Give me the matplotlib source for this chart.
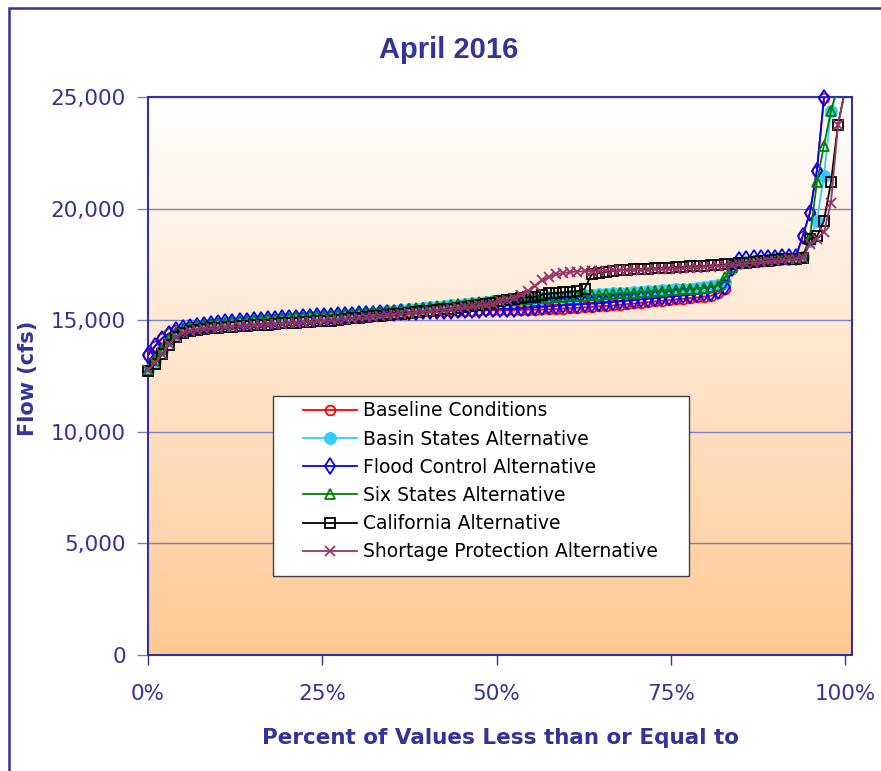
import numpy as np
import matplotlib
matplotlib.use('Agg')
import matplotlib.pyplot as plt
from matplotlib.colors import LinearSegmentedColormap
from matplotlib.lines import Line2D
from matplotlib.patches import Rectangle
from matplotlib.ticker import FuncFormatter

# sorted April 2016 flows (cfs), one value per trace, lowest to highest
baseline = [
    13450, 13850, 14200, 14420, 14560, 14650, 14710, 14760, 14800, 14840,
    14870, 14900, 14930, 14950, 14980, 15000, 15020, 15040, 15060, 15080,
    15100, 15120, 15140, 15160, 15180, 15200, 15210, 15230, 15240, 15260,
    15270, 15290, 15300, 15320, 15330, 15350, 15360, 15370, 15380, 15390,
    15400, 15410, 15410, 15420, 15420, 15430, 15430, 15440, 15440, 15450,
    15450, 15450, 15460, 15460, 15470, 15470, 15480, 15490, 15500, 15520,
    15540, 15560, 15580, 15600, 15620, 15640, 15660, 15690, 15720, 15750,
    15780, 15810, 15840, 15870, 15900, 15930, 15960, 15990, 16020, 16060,
    16100, 16200, 16420, 17300, 17550, 17620, 17660, 17690, 17720, 17740,
    17760, 17780, 17800, 18780, 19800, 21700, 24950, 26500, 28000, 30000]
basin_states = [
    12750, 13150, 13650, 14100, 14400, 14570, 14660, 14720, 14770, 14810,
    14840, 14870, 14900, 14930, 14950, 14980, 15000, 15020, 15050, 15070,
    15090, 15110, 15130, 15150, 15170, 15190, 15210, 15230, 15250, 15270,
    15290, 15310, 15340, 15370, 15400, 15430, 15460, 15490, 15520, 15550,
    15580, 15610, 15640, 15670, 15700, 15730, 15760, 15790, 15820, 15850,
    15880, 15900, 15920, 15940, 15960, 15980, 16000, 16020, 16040, 16060,
    16080, 16100, 16120, 16140, 16160, 16180, 16200, 16220, 16240, 16260,
    16280, 16300, 16320, 16340, 16360, 16380, 16400, 16420, 16450, 16480,
    16520, 16580, 16700, 17350, 17550, 17600, 17640, 17670, 17700, 17720,
    17740, 17760, 17780, 17850, 18560, 19460, 21470, 24390, 25300, 27000]
flood_control = [
    13430, 13830, 14180, 14400, 14550, 14640, 14700, 14750, 14800, 14840,
    14870, 14900, 14920, 14950, 14970, 15000, 15020, 15040, 15060, 15080,
    15100, 15120, 15140, 15160, 15180, 15190, 15210, 15220, 15240, 15250,
    15270, 15280, 15300, 15310, 15330, 15340, 15350, 15370, 15380, 15390,
    15400, 15410, 15420, 15430, 15440, 15450, 15460, 15470, 15480, 15490,
    15500, 15510, 15520, 15540, 15560, 15580, 15600, 15620, 15640, 15660,
    15680, 15700, 15720, 15740, 15760, 15780, 15810, 15840, 15870, 15900,
    15930, 15960, 15990, 16020, 16050, 16080, 16110, 16140, 16170, 16200,
    16240, 16300, 16480, 17350, 17700, 17760, 17780, 17790, 17800, 17800,
    17810, 17820, 17830, 18780, 19800, 21700, 24950, 26500, 28000, 30000]
six_states = [
    12780, 13200, 13720, 14180, 14460, 14610, 14690, 14750, 14790, 14830,
    14860, 14890, 14920, 14950, 14980, 15000, 15030, 15050, 15070, 15090,
    15110, 15130, 15150, 15170, 15190, 15210, 15230, 15250, 15270, 15290,
    15310, 15330, 15350, 15380, 15410, 15440, 15470, 15500, 15530, 15560,
    15590, 15620, 15650, 15680, 15710, 15740, 15770, 15800, 15830, 15860,
    15880, 15900, 15920, 15940, 15960, 15980, 16000, 16010, 16030, 16050,
    16070, 16090, 16100, 16120, 16140, 16160, 16180, 16200, 16220, 16240,
    16260, 16280, 16300, 16320, 16340, 16360, 16380, 16400, 16420, 16450,
    16490, 16550, 16950, 17400, 17550, 17600, 17630, 17660, 17690, 17720,
    17740, 17760, 17780, 17850, 18700, 21170, 22820, 24380, 25500, 27500]
california = [
    12720, 13050, 13480, 13900, 14230, 14420, 14510, 14560, 14600, 14630,
    14650, 14700, 14700, 14720, 14760, 14790, 14800, 14800, 14830, 14860,
    14880, 14890, 14900, 14930, 14950, 14960, 14980, 15010, 15050, 15080,
    15120, 15150, 15170, 15200, 15230, 15260, 15300, 15330, 15360, 15390,
    15420, 15450, 15490, 15520, 15560, 15600, 15640, 15680, 15720, 15760,
    15850, 15900, 15950, 16000, 16030, 16050, 16150, 16200, 16220, 16250,
    16280, 16300, 16400, 17050, 17100, 17150, 17200, 17230, 17260, 17280,
    17300, 17310, 17330, 17350, 17360, 17380, 17400, 17410, 17420, 17440,
    17460, 17480, 17500, 17520, 17550, 17580, 17610, 17640, 17670, 17700,
    17720, 17740, 17760, 17800, 18650, 18750, 19450, 21170, 23760, 25300]
shortage = [
    12750, 13100, 13500, 13920, 14250, 14430, 14520, 14570, 14610, 14640,
    14660, 14690, 14710, 14730, 14750, 14770, 14790, 14810, 14830, 14850,
    14870, 14890, 14910, 14930, 14950, 14970, 14990, 15020, 15040, 15070,
    15100, 15130, 15160, 15190, 15220, 15250, 15280, 15310, 15340, 15370,
    15400, 15430, 15460, 15500, 15540, 15580, 15620, 15660, 15700, 15740,
    15850, 15920, 16000, 16120, 16300, 16550, 16780, 16950, 17050, 17120,
    17160, 17180, 17190, 17200, 17210, 17220, 17230, 17240, 17250, 17260,
    17260, 17270, 17280, 17290, 17300, 17310, 17320, 17340, 17360, 17380,
    17400, 17420, 17450, 17480, 17510, 17540, 17570, 17600, 17630, 17660,
    17690, 17720, 17750, 17790, 18400, 18650, 18930, 20270, 23760, 25300]

names = ['Baseline Conditions', 'Basin States Alternative', 'Flood Control Alternative',
         'Six States Alternative', 'California Alternative', 'Shortage Protection Alternative']
# percent of values less than or equal to (rank position of each trace)
pct = np.linspace(0, 1, len(baseline))

navy = '#333399'

fig = plt.figure(figsize=(8.81, 7.71), dpi=100)
ax = fig.add_axes([148/881, 116/771, 704/881, 558/771])

# outer chart frame (runs off the right and bottom of the picture)
fig.patches.append(Rectangle((9/881, -0.05), 1.1, 1.05 - 8/771, transform=fig.transFigure,
                             fill=False, ec=navy, lw=1.8))

# plot area gradient, white at top to peach at bottom
bg = LinearSegmentedColormap.from_list('bg', ['#FFC994', '#FFFFFF'])
ax.imshow(np.linspace(0, 1, 256).reshape(-1, 1), cmap=bg, origin='lower',
          extent=[0, 1.01, 0, 25000], aspect='auto', zorder=0)

styles = [
    ('#FF0000', 'o', 7, 'none'),
    ('#33CCFF', 'o', 8, '#33CCFF'),
    ('#0000FF', 'd', 8, 'none'),
    ('#008000', '^', 7, 'none'),
    ('#000000', 's', 7, 'none'),
    ('#993366', 'x', 7, 'none'),
]
data = [baseline, basin_states, flood_control, six_states, california, shortage]

handles = []
for vals, (c, m, ms, fc) in zip(data, styles):
    v = np.array(vals, dtype=float)
    ax.plot(pct, v, color=c, lw=1.3, zorder=3)
    keep = v <= 25000
    ax.plot(pct[keep], v[keep], ls='none', marker=m, ms=ms, mfc=fc, mec=c, mew=1.3,
            clip_on=False, zorder=3)
    handles.append(Line2D([], [], color=c, lw=1.3, marker=m, ms=ms, mfc=fc, mec=c, mew=1.3))

ax.set_xlim(0, 1.01)
ax.set_ylim(0, 25000)
ax.set_yticks(range(0, 25001, 5000))
ax.yaxis.set_major_formatter(FuncFormatter(lambda v, p: f'{v:,.0f}'))
ax.set_xticks([0, 0.25, 0.5, 0.75, 1.0])
ax.set_xticklabels(['0%', '25%', '50%', '75%', '100%'])
ax.grid(axis='y', color='#8080C0', lw=1)
ax.set_axisbelow(True)
for s in ax.spines.values():
    s.set_color(navy)
    s.set_linewidth(1.5)
ax.tick_params(axis='y', length=8, width=1, color='#8080C0', pad=8, labelsize=15.5, labelcolor=navy)
ax.tick_params(axis='x', length=7, width=1, color=navy, pad=14, labelsize=15.5, labelcolor=navy)

# legend box
ax.add_patch(Rectangle((0.1776, 0.1418), 0.591, 0.3232, transform=ax.transAxes,
                       fc='white', ec='#404040', lw=1, zorder=4))
ax.legend(handles, names, loc='upper left', bbox_to_anchor=(0.2202, 0.4545),
          frameon=False, borderpad=0, borderaxespad=0, handlelength=2.9,
          handletextpad=0.3, labelspacing=0.49, prop=dict(family='DejaVu Sans', size=13.5))

fig.text(449/881, 1 - 50/771, 'April 2016', ha='center', va='center', fontsize=21,
         fontweight='bold', color=navy, family='Liberation Sans')
fig.text(500/881, 1 - 738/771, 'Percent of Values Less than or Equal to', ha='center',
         va='center', fontsize=15.5, fontweight='bold', color=navy)
fig.text(28/881, 1 - 378/771, 'Flow (cfs)', ha='center', va='center', rotation=90,
         fontsize=15, fontweight='bold', color=navy)

fig.savefig('out.png', dpi=100)
